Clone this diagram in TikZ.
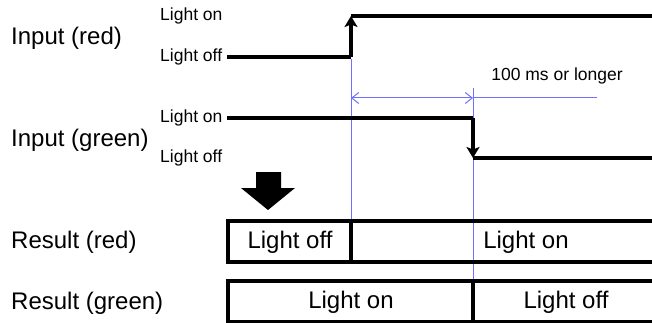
\documentclass[tikz,border=0pt]{standalone}
\usepackage{fontspec}
\setmainfont{Liberation Sans}
\usepackage{tikz}
\usetikzlibrary{arrows.meta, positioning}
\definecolor{guide}{HTML}{7070FF}
\tikzset{
  biglabel/.style={font=\fontsize{24}{28}\selectfont, inner sep=0pt},
  smalllabel/.style={font=\fontsize{17.5}{20}\selectfont, inner sep=0pt},
  signal/.style={line width=4pt},
  edge/.style={-{Stealth[length=11pt,width=13pt,inset=2.5pt]}, line width=4pt},
  guideline/.style={draw=guide, line width=1pt},
  dimarrow/.style={{Straight Barb[length=7pt,width=11pt]}-{Straight Barb[length=7pt,width=11pt]}, draw=guide, line width=1pt},
  resbox/.style={line width=3.5pt},
}
\begin{document}
\begin{tikzpicture}[x=1pt,y=-1pt]
  \useasboundingbox (0,0) rectangle (652,323);
  \node[biglabel,anchor=west] (inred) at (11,38) {Input (red)};
  \node[biglabel,anchor=west] (ingreen) at (11,140) {Input (green)};
  \node[biglabel,anchor=west] (resred) at (11,242) {Result (red)};
  \node[biglabel,anchor=west] (resgreen) at (11,303) {Result (green)};
  \node[smalllabel,anchor=west] (redon) at (160,16) {Light on};
  \node[smalllabel,anchor=west] (redoff) at (160,57) {Light off};
  \node[smalllabel,anchor=west] (greenon) at (160,118) {Light on};
  \node[smalllabel,anchor=west] (greenoff) at (160,158) {Light off};
  \coordinate (r0) at (227,57);
  \coordinate (rup) at (351,57);
  \coordinate (rtop) at (351,16);
  \coordinate (r1) at (652,16);
  \coordinate (g0) at (227,118);
  \coordinate (gdown) at (473,118);
  \coordinate (gbot) at (473,158);
  \coordinate (g1) at (652,158);
  \coordinate (ga) at (351,59);
  \coordinate (gaend) at (351,221);
  \coordinate (gb) at (473,88);
  \coordinate (gbend) at (473,281);
  \coordinate (dimL) at (351,98);
  \coordinate (dimR) at (473,98);
  \coordinate (dimE) at (597,98);
  \draw[guideline] (ga)--(gaend);
  \draw[guideline] (gb)--(gbend);
  \draw[dimarrow] (dimL)--(dimR);
  \draw[guideline] (dimR)--(dimE);
  \node[smalllabel] (dimtext) at (557,76) {100 ms or longer};
  \draw[signal] (r0)--(rup);
  \draw[edge] (rup)--(rtop);
  \draw[signal] (rtop)--(r1);
  \draw[signal] (g0)--(gdown);
  \draw[edge] (gdown)--(gbot);
  \draw[signal] (gbot)--(g1);
  \fill (256,172)--(281,172)--(281,188)--(295,188)--(268,210)--(241,188)--(256,188)--cycle;
  \draw[resbox] (660,221)--(228,221)--(228,262)--(660,262);
  \draw[resbox] (351,221)--(351,262);
  \draw[resbox] (660,281)--(228,281)--(228,322)--(660,322);
  \draw[resbox] (473,281)--(473,322);
  \node[biglabel] (redoffbox) at (290,242) {Light off};
  \node[biglabel] (redonbox) at (526,242) {Light on};
  \node[biglabel] (greenonbox) at (351,302) {Light on};
  \node[biglabel] (greenoffbox) at (566,302) {Light off};
\end{tikzpicture}
\end{document}
